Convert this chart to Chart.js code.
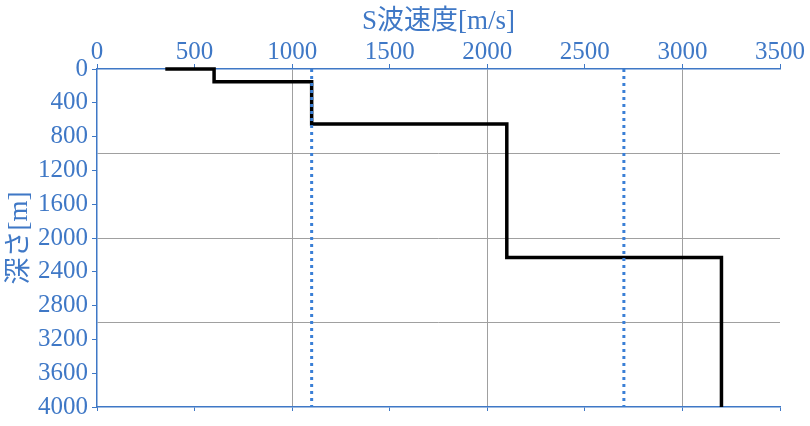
<!DOCTYPE html>
<html lang="ja">
<head>
    <meta charset="UTF-8">
    <title>S波速度構造</title>
    <script src="https://cdn.jsdelivr.net/npm/chart.js"></script>
    <style>
        body {
            margin: 0;
            background-color: #ffffff;
        }

        #chart-container {
            width: 810px;
            height: 426px;
        }
    </style>
</head>
<body>
    <div id="chart-container">
        <canvas id="vsChart"></canvas>
    </div>

    <script>
        // layer S-wave velocities and their depth ranges
        const layerVs = [350, 600, 1100, 2100, 3200];
        const layerTop = [0, 0, 150, 650, 2230];
        const layerBottom = [0, 150, 650, 2230, 4000];

        // reference (dotted) velocities
        const refVs = [1100, 2700];
        const refDepth = [0, 4000];

        const blue = '#3f78c6';
        const serif = "'Liberation Serif', 'Noto Sans CJK JP', serif";

        // build the step profile from the layers
        const profile = [];
        layerVs.forEach((v, i) => {
            profile.push({x: v, y: layerTop[i]});
            profile.push({x: v, y: layerBottom[i]});
        });

        const datasets = [
            {
                data: profile,
                showLine: true,
                borderColor: '#000000',
                borderWidth: 3.5,
                pointRadius: 0,
                fill: false,
                clip: 6,
                order: 2
            }
        ];
        refVs.forEach(v => {
            datasets.push({
                data: refDepth.map(d => ({x: v, y: d})),
                showLine: true,
                borderColor: '#3a7fd6',
                borderWidth: 3,
                borderDash: [3, 4],
                borderCapStyle: 'butt',
                pointRadius: 0,
                fill: false,
                clip: 6,
                order: 1
            });
        });

        const ctx = document.getElementById('vsChart').getContext('2d');

        new Chart(ctx, {
            type: 'scatter',
            data: {datasets: datasets},
            options: {
                responsive: true,
                maintainAspectRatio: false,
                animation: false,
                layout: {
                    padding: {left: 0, right: 30, top: 0, bottom: 0}
                },
                plugins: {
                    legend: {display: false},
                    tooltip: {enabled: false}
                },
                scales: {
                    x: {
                        type: 'linear',
                        position: 'top',
                        min: 0,
                        max: 3500,
                        afterFit: s => { s.height = 69; },
                        ticks: {
                            stepSize: 500,
                            color: blue,
                            padding: -3,
                            maxRotation: 0,
                            callback: v => String(v),
                            font: {family: serif, size: 25}
                        },
                        grid: {
                            color: c => (c.tick && c.tick.value % 1000 === 0 && c.tick.value > 0) ? '#a0a0a0' : 'rgba(0,0,0,0)',
                            tickColor: blue,
                            tickLength: 5,
                            lineWidth: 1
                        },
                        border: {color: blue, width: 1.5},
                        title: {
                            display: true,
                            text: 'S波速度[m/s]',
                            color: blue,
                            padding: {top: 6, bottom: 0},
                            font: {family: serif, size: 27}
                        }
                    },
                    x2: {
                        type: 'linear',
                        position: 'bottom',
                        min: 0,
                        max: 3500,
                        afterFit: s => { s.height = 18; },
                        ticks: {stepSize: 500, display: false},
                        grid: {
                            drawOnChartArea: false,
                            tickColor: blue,
                            tickLength: 4
                        },
                        border: {color: blue, width: 1.5}
                    },
                    y: {
                        type: 'linear',
                        position: 'left',
                        reverse: true,
                        min: 0,
                        max: 4000,
                        afterFit: s => { s.width = 97; },
                        afterBuildTicks: s => {
                            s.ticks = [];
                            for (let v = 0; v <= 4000; v += 200) s.ticks.push({value: v});
                        },
                        ticks: {
                            color: blue,
                            padding: 4,
                            autoSkip: false,
                            callback: v => (v % 400 === 0 ? String(v) : ''),
                            font: {family: serif, size: 25}
                        },
                        grid: {
                            color: c => (c.tick && c.tick.value % 1000 === 0 && c.tick.value > 0 && c.tick.value < 4000) ? '#a0a0a0' : 'rgba(0,0,0,0)',
                            tickColor: c => (c.tick && c.tick.value % 400 === 0) ? blue : 'rgba(0,0,0,0)',
                            tickLength: 5,
                            lineWidth: 1
                        },
                        border: {color: blue, width: 1.5},
                        title: {
                            display: true,
                            text: '深さ[m]',
                            color: blue,
                            padding: {top: 4, bottom: 0},
                            font: {family: serif, size: 27}
                        }
                    }
                }
            }
        });
    </script>
</body>
</html>
